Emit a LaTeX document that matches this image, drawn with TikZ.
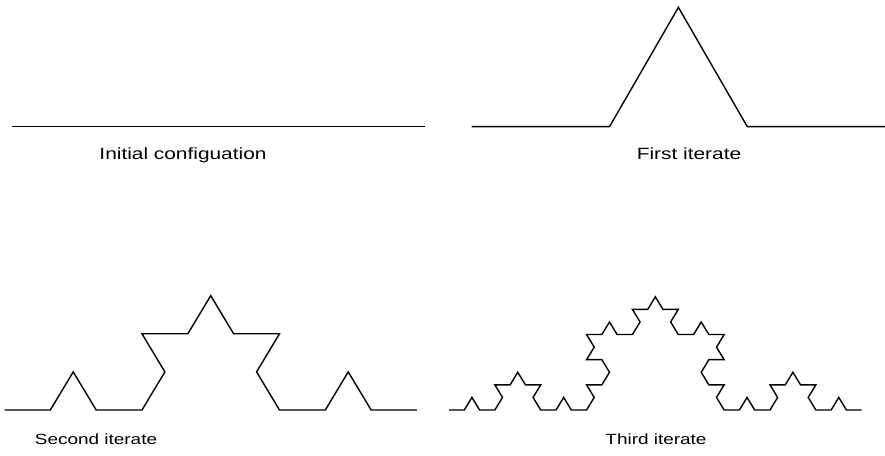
\documentclass[tikz,border=0pt]{standalone}
\usepackage{fontspec}
\setmainfont{Liberation Sans}[FakeStretch=1.28]
\begin{document}
\begin{tikzpicture}[x=1pt,y=1pt,
  curve/.style={line width=1.4pt, line join=miter, black},
  lab/.style={anchor=base, inner sep=0pt, font=\fontsize{16.3}{19}\selectfont},
  lowlab/.style={lab, font=\fontsize{14.8}{18}\selectfont}]
\useasboundingbox (0,0) rectangle (885,455);
% Initial configuration
\coordinate (i0) at (11.7,328.3);
\coordinate (i1) at (425,328.3);
\draw[curve] (i0) -- (i1);
\node[lab] (l1) at (183,295) {Initial configuation};
% First iterate
\coordinate (f0) at (471.7,328.3);
\draw[curve] (f0) -- ++(0:137.8) -- ++(60:137.8) -- ++(-60:137.8) -- ++(0:137.8);
\node[lab] (l2) at (689,295) {First iterate};
% Second iterate
\begin{scope}[shift={(4.5,45)}, yscale=0.96]
\draw[curve] (0,0) foreach \a in {0,60,-60,0, 60,120,0,60, -60,0,-120,-60, 0,60,-60,0}{ -- ++(\a:45.83) };
\end{scope}
\node[lowlab] (l3) at (96,11) {Second iterate};
% Third iterate
\begin{scope}[shift={(449,45)}, yscale=0.95]
\draw[curve] (0,0) foreach \a in {
0,60,-60,0, 60,120,0,60, -60,0,-120,-60, 0,60,-60,0,
60,120,0,60, 120,180,60,120, 0,60,-60,0, 60,120,0,60,
-60,0,-120,-60, 0,60,-60,0, -120,-60,-180,-120, -60,0,-120,-60,
0,60,-60,0, 60,120,0,60, -60,0,-120,-60, 0,60,-60,0}{ -- ++(\a:15.285) };
\end{scope}
\node[lowlab] (l4) at (656,11) {Third iterate};
\end{tikzpicture}
\end{document}
